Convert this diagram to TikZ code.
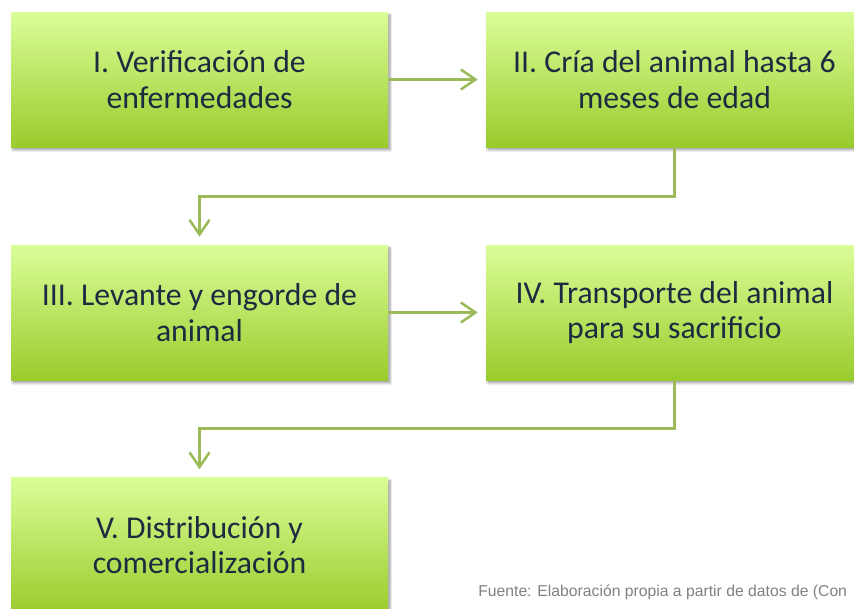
\documentclass[tikz,border=0pt]{standalone}
\usepackage{fontspec}
\setmainfont{Carlito}
\newfontfamily\notefont{Liberation Sans}
\usetikzlibrary{arrows.meta,shadows.blur}
\definecolor{boxtop}{HTML}{DAFE98}
\definecolor{boxbot}{HTML}{9ACB2C}
\definecolor{boxtext}{HTML}{1C2B40}
\definecolor{flow}{HTML}{9BBB59}
\definecolor{note}{HTML}{808080}
\tikzset{
  stage/.style={top color=boxtop, bottom color=boxbot,
    minimum width=282.75pt, minimum height=101.25pt,
    align=center, text=boxtext,
    font=\fontsize{23.8}{26.5}\selectfont,
    blur shadow={shadow xshift=1.5pt, shadow yshift=-2.2pt, shadow blur steps=6}},
  flowline/.style={draw=flow, line width=1.9pt,
    -{Straight Barb[length=11pt,width=15pt]}, shorten >=6pt}
}
\begin{document}
\begin{tikzpicture}[x=0.75pt,y=-0.75pt]
      \useasboundingbox (0,0) rectangle (854,608);
      \clip (0,0) rectangle (854,608);
      \draw
        (199.5,79.5) node[stage] (1) {I. Verificación de\\enfermedades}
        (674.5,79.5) node[stage] (2) {II. Cría del animal hasta 6\\meses de edad}
        (199.5,312.5) node[stage] (3) {III. Levante y engorde de\\animal}
        (674.5,312.5) node[stage] (4) {IV. Transporte del animal\\para su sacrificio}
        (199.5,545) node[stage] (5) {V. Distribución y\\comercialización};
      \node[font=\notefont\fontsize{11.8}{13}\selectfont, text=note, anchor=base west, inner sep=0pt]
        (fuente) at (478,596) {Fuente: Elaboración propia a partir de datos de (Con};
      \begin{scope}[flowline]
        \draw (1) -- (2);
        \draw (2.south) -- ++(0,49) -| (3.north);
        \draw (3) -- (4);
        \draw (4.south) -- ++(0,48) -| (5.north);
      \end{scope}
    \end{tikzpicture}
\end{document}
